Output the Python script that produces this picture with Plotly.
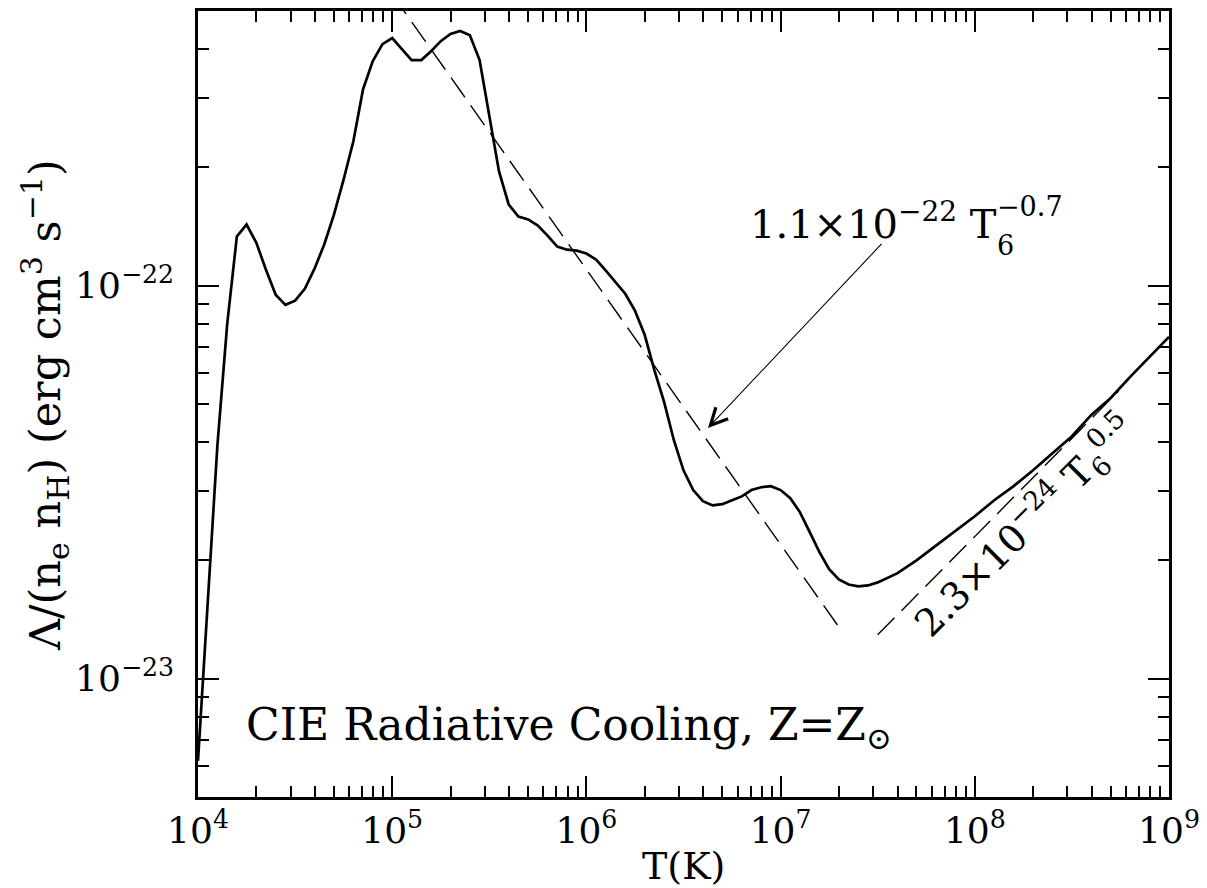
import plotly.graph_objects as go
import numpy as np

# ---- data ----
logT = [4.00, 4.05, 4.10, 4.15, 4.20, 4.25, 4.30, 4.35, 4.40, 4.45,
        4.50, 4.55, 4.60, 4.65, 4.70, 4.75, 4.80, 4.85, 4.90, 4.95,
        5.00, 5.05, 5.10, 5.15, 5.20, 5.25, 5.30, 5.35, 5.40, 5.45,
        5.50, 5.55, 5.60, 5.65, 5.70, 5.75, 5.80, 5.85, 5.90, 5.95,
        6.00, 6.05, 6.10, 6.15, 6.20, 6.25, 6.30, 6.35, 6.40, 6.45,
        6.50, 6.55, 6.60, 6.65, 6.70, 6.75, 6.80, 6.85, 6.90, 6.95,
        7.00, 7.05, 7.10, 7.15, 7.20, 7.25, 7.30, 7.35, 7.40, 7.45,
        7.50, 7.60, 7.70, 7.80, 7.90, 8.00, 8.10, 8.20, 8.30, 8.40,
        8.50, 8.60, 8.70, 8.80, 8.90, 9.00]
Lam = [6.18e-24, 1.60e-23, 3.93e-23, 7.95e-23, 1.334e-22, 1.431e-22, 1.287e-22, 1.098e-22, 9.48e-23, 8.94e-23,
       9.16e-23, 9.82e-23, 1.105e-22, 1.273e-22, 1.517e-22, 1.864e-22, 2.330e-22, 3.162e-22, 3.727e-22, 4.118e-22,
       4.266e-22, 3.999e-22, 3.75e-22, 3.75e-22, 3.95e-22, 4.19e-22, 4.37e-22, 4.45e-22, 4.34e-22, 3.75e-22,
       2.73e-22, 1.953e-22, 1.609e-22, 1.50e-22, 1.474e-22, 1.422e-22, 1.341e-22, 1.257e-22, 1.235e-22, 1.228e-22,
       1.207e-22, 1.165e-22, 1.092e-22, 1.024e-22, 9.54e-23, 8.64e-23, 7.50e-23, 6.10e-23, 5.06e-23, 4.05e-23,
       3.39e-23, 3.02e-23, 2.83e-23, 2.76e-23, 2.78e-23, 2.845e-23, 2.91e-23, 3.02e-23, 3.07e-23, 3.09e-23,
       3.02e-23, 2.88e-23, 2.65e-23, 2.36e-23, 2.10e-23, 1.90e-23, 1.79e-23, 1.737e-23, 1.717e-23, 1.727e-23,
       1.758e-23, 1.853e-23, 2.00e-23, 2.18e-23, 2.37e-23, 2.59e-23, 2.845e-23, 3.09e-23, 3.39e-23, 3.75e-23,
       4.14e-23, 4.69e-23, 5.18e-23, 5.86e-23, 6.59e-23, 7.41e-23]

# power-law fits: coefficient, exponent, T range
fit1_coef, fit1_exp, fit1_T = 1.1e-22, -0.7, [1.0e5, 2.0e7]
fit2_coef, fit2_exp, fit2_T = 2.3e-24, 0.5, [3.16e7, 5.5e8]

x_ticks = [1e4, 1e5, 1e6, 1e7, 1e8, 1e9]
x_ticktext = ["10<sup>4</sup>", "10<sup>5</sup>", "10<sup>6</sup>", "10<sup>7</sup>", "10<sup>8</sup>", "10<sup>9</sup>"]
y_ticks = [1e-23, 1e-22]
y_ticktext = ["10<sup>−23</sup>", "10<sup>−22</sup>"]

T = [10 ** v for v in logT]
f1T = np.array(fit1_T)
f2T = np.array(fit2_T)
f1 = fit1_coef * (f1T / 1e6) ** fit1_exp
f2 = fit2_coef * (f2T / 1e6) ** fit2_exp

FONT = "DejaVu Serif"

fig = go.Figure()
fig.add_trace(go.Scatter(x=f1T, y=f1, mode="lines",
                         line=dict(color="black", width=1.4, dash="24px,10px"), showlegend=False))
fig.add_trace(go.Scatter(x=f2T, y=f2, mode="lines",
                         line=dict(color="black", width=1.4, dash="24px,10px"), showlegend=False))
fig.add_trace(go.Scatter(x=T, y=Lam, mode="lines",
                         line=dict(color="black", width=2.7), showlegend=False))

x_minor = [m * 10 ** e for e in range(4, 9) for m in range(2, 10)]
y_minor = [m * 10 ** e for e in range(-24, -21) for m in range(2, 10)]

axis_common = dict(showgrid=False, zeroline=False, showline=True, linecolor="black",
                   linewidth=2.5, mirror="allticks", ticks="inside", ticklen=21,
                   tickwidth=2, tickcolor="black",
                   tickfont=dict(family=FONT, size=36, color="black"))

fig.update_xaxes(type="log", range=[4, 9], tickvals=x_ticks, ticktext=x_ticktext,
                 minor=dict(tickvals=x_minor, ticks="inside", ticklen=11, tickwidth=2,
                            tickcolor="black", showgrid=False),
                 **axis_common)
fig.update_yaxes(type="log", range=[np.log10(5e-24), np.log10(5e-22)], tickvals=y_ticks,
                 ticktext=y_ticktext, ticklabelstandoff=14,
                 minor=dict(tickvals=y_minor, ticks="inside", ticklen=11, tickwidth=2,
                            tickcolor="black", showgrid=False),
                 **axis_common)

# page has an 8px body margin: plot area spans x 198..1169, y 11..797 in the page
OFF = 8
W, H = 1207 - OFF, 888 - OFF
L, R, TOP, B = 198 - OFF, 38, 11 - OFF, 91
pw, ph = W - L - R, H - TOP - B


def px(xp):
    return (xp - OFF - L) / pw


def py(yp):
    return (H - B - (yp - OFF)) / ph


ann = []
# arrow to the first fit line
ann.append(dict(x=6.626, y=-22.362, ax=7.527, ay=-21.890, xref="x", yref="y",
                axref="x", ayref="y", text="", showarrow=True, arrowhead=5,
                arrowsize=3, arrowwidth=1.1, arrowcolor="black", standoff=0))
ann.append(dict(x=px(748), y=py(221), xref="paper", yref="paper", xanchor="left", yanchor="middle",
                text="1.1×10<sup>−22</sup> T", showarrow=False,
                font=dict(family=FONT, size=40, color="black")))
ann.append(dict(x=px(995), y=py(245), xref="paper", yref="paper", xanchor="left", yanchor="middle",
                text="6", showarrow=False,
                font=dict(family=FONT, size=27, color="black")))
ann.append(dict(x=px(995), y=py(206), xref="paper", yref="paper", xanchor="left", yanchor="middle",
                text="−0.7", showarrow=False,
                font=dict(family=FONT, size=27, color="black")))
ann.append(dict(x=px(1024), y=py(526), xref="paper", yref="paper", xanchor="center", yanchor="middle",
                text="2.3×10<sup>−24</sup> T<sub>6</sub><sup>0.5</sup>", showarrow=False, textangle=-45,
                font=dict(family=FONT, size=38, color="black")))
ann.append(dict(x=px(244), y=py(727), xref="paper", yref="paper", xanchor="left", yanchor="middle",
                text="CIE Radiative Cooling, Z=Z<sub>⊙</sub>", showarrow=False,
                font=dict(family=FONT, size=44, color="black")))
# axis titles
ann.append(dict(x=px(683), y=py(866), xref="paper", yref="paper", xanchor="center", yanchor="middle",
                text="T(K)", showarrow=False, font=dict(family=FONT, size=38, color="black")))
ann.append(dict(x=px(45), y=py(405), xref="paper", yref="paper", xanchor="center", yanchor="middle",
                text="Λ/(n<sub>e</sub> n<sub>H</sub>) (erg cm<sup>3</sup> s<sup>−1</sup>)", textangle=-90,
                showarrow=False, font=dict(family=FONT, size=43, color="black")))

fig.update_layout(width=W, height=H, margin=dict(l=L, r=R, t=TOP, b=B, autoexpand=False),
                  plot_bgcolor="white", paper_bgcolor="white", annotations=ann,
                  showlegend=False)

fig.write_html("out.html")
